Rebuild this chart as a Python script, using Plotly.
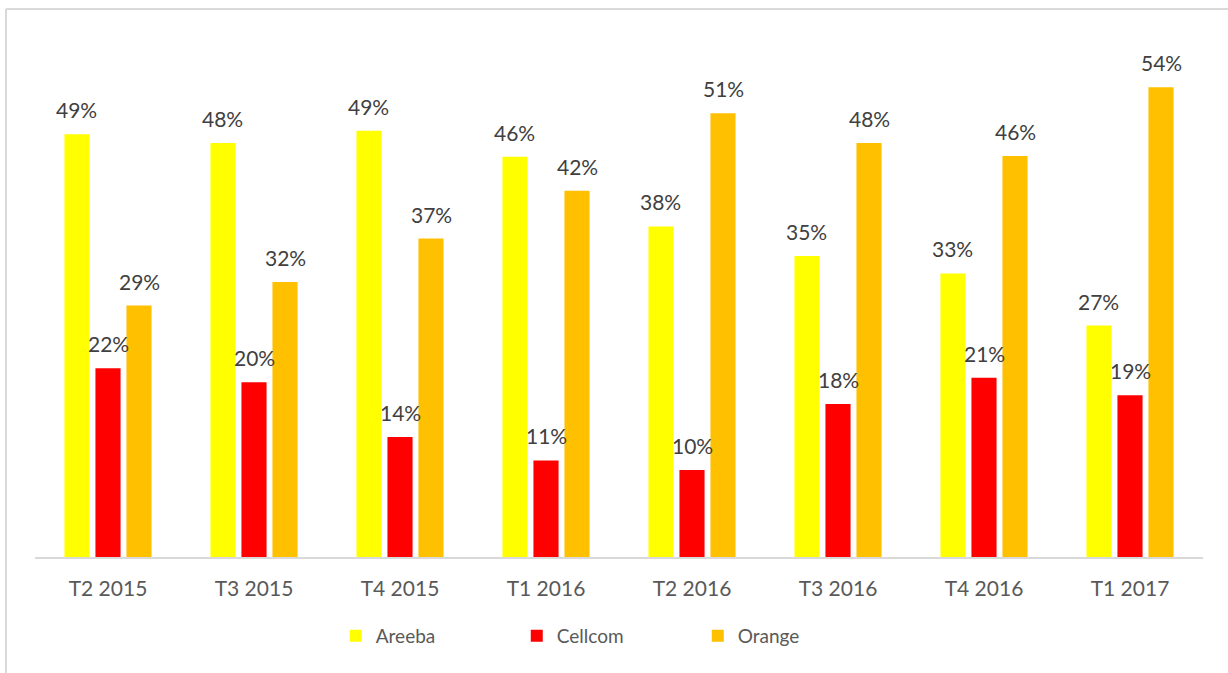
import plotly.graph_objects as go

quarters = ["T2 2015", "T3 2015", "T4 2015", "T1 2016", "T2 2016", "T3 2016", "T4 2016", "T1 2017"]
areeba = [48.6, 47.6, 49.0, 46.0, 38.0, 34.6, 32.6, 26.6]
cellcom = [21.7, 20.1, 13.8, 11.1, 10.0, 17.6, 20.6, 18.6]
orange = [28.9, 31.6, 36.6, 42.1, 51.0, 47.6, 46.1, 54.0]

series = [
    ("Areeba", areeba, "#FFFF00"),
    ("Cellcom", cellcom, "#FF0000"),
    ("Orange", orange, "#FFC000"),
]

FONT = "Lato, 'Open Sans', sans-serif"
W, H = 1228, 673
ML, MR, MT, MB = 35, 25, 35, 116
PW = W - ML - MR
PH = H - MT - MB

fig = go.Figure()
for name, vals, col in series:
    fig.add_trace(go.Bar(x=quarters, y=vals, name=name, marker=dict(color=col, line=dict(width=0))))

# value labels sit a bit higher above the bars than plotly's outside text
slot = PW / len(quarters) * (1 - 0.363) / 3
annotations = []
for i, (name, vals, col) in enumerate(series):
    for q, v in zip(quarters, vals):
        annotations.append(dict(
            x=q, y=v, xref="x", yref="y", text=f"{v:.0f}%", showarrow=False,
            yanchor="bottom", xshift=(i - 1) * slot, yshift=10,
            font=dict(family=FONT, size=21, color="#404040"),
        ))

# outer frame (left and top edges visible)
fx0 = (6 - ML) / PW
fy1 = 1 + (MT - 9) / PH
fy0 = -(MB + 5) / PH
fx1 = 1 + (MR + 5) / PW
fig.add_shape(type="line", xref="paper", yref="paper", x0=fx0, x1=fx0, y0=fy0, y1=fy1,
              line=dict(color="#D9D9D9", width=2))
fig.add_shape(type="line", xref="paper", yref="paper", x0=fx0, x1=fx1, y0=fy1, y1=fy1,
              line=dict(color="#D9D9D9", width=2))

fig.update_layout(
    width=W, height=H,
    margin=dict(l=ML, r=MR, t=MT, b=MB),
    paper_bgcolor="white", plot_bgcolor="white",
    barmode="group", bargap=0.363, bargroupgap=0.19,
    font=dict(family=FONT, size=21, color="#595959"),
    xaxis=dict(showline=True, linecolor="#D9D9D9", linewidth=2, ticks="",
               ticklabelstandoff=12, tickfont=dict(size=21, color="#595959")),
    yaxis=dict(range=[0, 60], visible=False, showgrid=False, zeroline=False),
    legend=dict(orientation="h", x=0.2575, xanchor="left", y=-0.151, yanchor="middle",
                entrywidth=136, font=dict(size=19, color="#595959"), traceorder="normal"),
    annotations=annotations,
    showlegend=True,
)

fig.write_html("out.html", config={"displayModeBar": False},
               post_script="document.body.style.margin='0';")
